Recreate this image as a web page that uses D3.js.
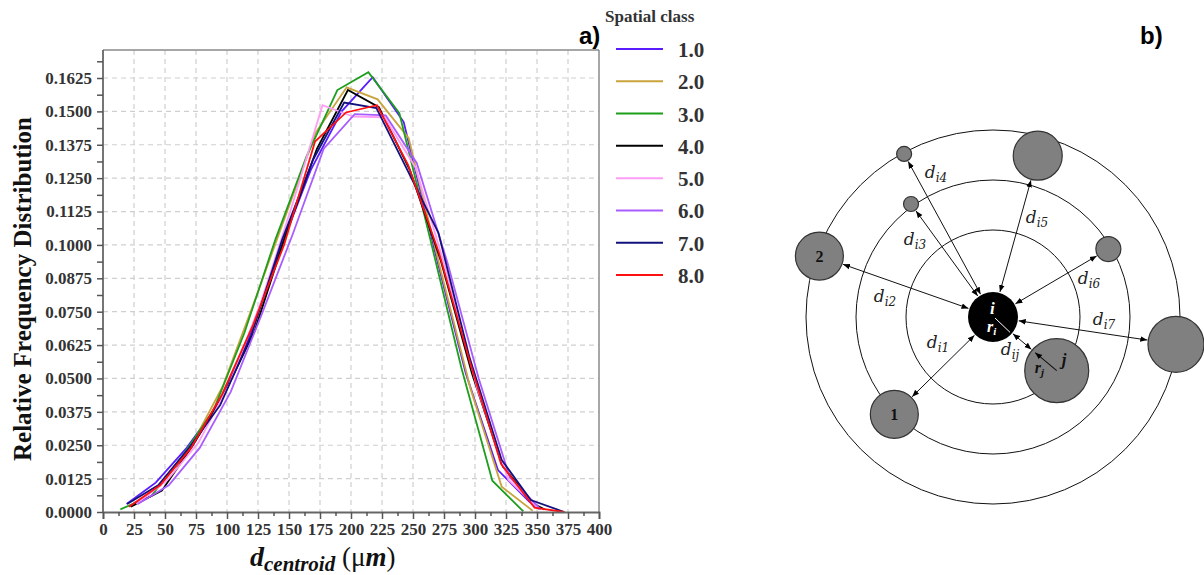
<!DOCTYPE html>
<html>
<head>
<meta charset="utf-8">
<script src="https://cdn.jsdelivr.net/npm/d3@7"></script>
<style>
  body { margin: 0; background: #fff; }
  svg { display: block; }
</style>
</head>
<body>
<svg id="chart" width="1204" height="575"></svg>
<script>
// ---------------- DATA (panel a) ----------------
const spatialClasses = ["1.0", "2.0", "3.0", "4.0", "5.0", "6.0", "7.0", "8.0"];
const classColors = ["#5a1cff", "#c9a43e", "#1d9e1d", "#000000", "#ff9cf5", "#a95cff", "#12127e", "#ff1010"];

const xClass1 = [19, 42.5, 67.5, 92.5, 117.5, 142.5, 167.5, 192.5, 217.5, 242.5, 267.5, 292.5, 318.5, 343.5, 352];
const yClass1 = [0.003, 0.011, 0.024, 0.040, 0.065, 0.098, 0.128, 0.150, 0.1628, 0.146, 0.098, 0.052, 0.0157, 0.004, 0.001];
const xClass2 = [21.5, 46.5, 71.5, 96.5, 121.5, 146.5, 171.5, 196.5, 221.5, 246.5, 271.5, 296.5, 321.5, 346.5];
const yClass2 = [0.002, 0.010, 0.025, 0.047, 0.078, 0.110, 0.142, 0.159, 0.1545, 0.140, 0.092, 0.046, 0.0095, 0.0005];
const xClass3 = [14, 39, 64, 89, 114, 139, 164, 189, 214, 239, 264, 289, 314, 339];
const yClass3 = [0.001, 0.006, 0.021, 0.038, 0.067, 0.102, 0.133, 0.158, 0.1647, 0.1493, 0.102, 0.054, 0.0117, 0.0002];
const xClass4 = [22.5, 47.5, 72.5, 97.5, 122.5, 147.5, 172.5, 197.5, 222.5, 247.5, 272.5, 297.5, 322.5, 347.5, 356];
const yClass4 = [0.002, 0.008, 0.025, 0.044, 0.068, 0.104, 0.136, 0.158, 0.1516, 0.128, 0.094, 0.052, 0.017, 0.003, 0.001];
const xClass5 = [27, 52, 77, 102, 127, 152, 177, 202, 227, 252, 277, 302, 327, 352];
const yClass5 = [0.003, 0.012, 0.026, 0.048, 0.078, 0.114, 0.1523, 0.148, 0.1478, 0.129, 0.090, 0.046, 0.012, 0.001];
const xClass6 = [28, 53, 78, 103, 128, 153, 178, 203, 228, 253, 278, 303, 328, 353];
const yClass6 = [0.003, 0.010, 0.024, 0.045, 0.074, 0.104, 0.136, 0.149, 0.1485, 0.1307, 0.093, 0.050, 0.013, 0.001];
const xClass7 = [19.5, 44.5, 69.5, 94.5, 119.5, 144.5, 169.5, 194.5, 220.5, 245.5, 270.5, 295.5, 321.5, 345, 372];
const yClass7 = [0.003, 0.010, 0.024, 0.040, 0.066, 0.102, 0.132, 0.1533, 0.1512, 0.128, 0.1045, 0.058, 0.0195, 0.0045, 0];
const xClass8 = [21, 46, 71, 96, 121, 146, 171, 196, 221, 246, 271, 296, 321, 348, 372];
const yClass8 = [0.002, 0.010, 0.024, 0.044, 0.070, 0.100, 0.1387, 0.1496, 0.1523, 0.130, 0.097, 0.056, 0.018, 0.0016, 0];

const xSeries = [xClass1, xClass2, xClass3, xClass4, xClass5, xClass6, xClass7, xClass8];
const ySeries = [yClass1, yClass2, yClass3, yClass4, yClass5, yClass6, yClass7, yClass8];

const xTicks = d3.range(0, 401, 25);
const yTicks = d3.range(0, 14).map(i => +(i * 0.0125).toFixed(4));

// ---------------- DATA (panel b diagram, polar around particle i) ----------------
const ringRadii = [87, 137, 187];
const satNames  = ["1", "2", "3", "4", "5", "6", "7", "j"];
const satAngle  = [135.4, -160.65, -125.96, -118.6, -74.5, -30.5, 8.5, 40.1];
const satDist   = [138.6, 184, 139.6, 185.7, 167.4, 133.9, 185, 83.3];
const satRadius = [24, 24, 7.5, 7.5, 24.5, 12.5, 28, 32];
const satText   = ["1", "2", "", "", "", "", "", ""];
const distLabels = ["i1", "i2", "i3", "i4", "i5", "i6", "i7", "ij"];
const labelAngle = [154.7, -169.5, -135.4, -111.6, -66, -21.6, 1.5, 62.7];
const labelDist  = [60.8, 109.8, 109.6, 154.9, 108.3, 103.2, 111, 37];
const particleIRadius = 25;

// ---------------- DRAW ----------------
const svg = d3.select("#chart");
svg.append("rect").attr("width", 1204).attr("height", 575).attr("fill", "#fff");

const m = { left: 103, right: 599, top: 50, bottom: 512 };
const x = d3.scaleLinear().domain([0, 400]).range([m.left, m.right]);
const y = d3.scaleLinear().domain([0, 0.1625]).range([m.bottom, 78]);

const serif = "'Liberation Serif', 'Times New Roman', serif";

// grid
const grid = svg.append("g");
grid.selectAll("line.v").data(xTicks.filter(d => d > 0 && d < 400)).join("line")
  .attr("x1", d => x(d)).attr("x2", d => x(d)).attr("y1", m.top).attr("y2", m.bottom)
  .attr("stroke", "#cfcfcf").attr("stroke-width", 1.2).attr("stroke-dasharray", "5,4");
grid.selectAll("line.h").data(yTicks.filter(d => d > 0)).join("line")
  .attr("x1", m.left).attr("x2", m.right).attr("y1", d => y(d)).attr("y2", d => y(d))
  .attr("stroke", "#cfcfcf").attr("stroke-width", 1.2).attr("stroke-dasharray", "5,4");

// frame top/right
svg.append("line").attr("x1", m.left).attr("x2", m.right).attr("y1", m.top).attr("y2", m.top)
  .attr("stroke", "#8a8a8a").attr("stroke-width", 1.5);
svg.append("line").attr("x1", m.right).attr("x2", m.right).attr("y1", m.top).attr("y2", m.bottom)
  .attr("stroke", "#8a8a8a").attr("stroke-width", 1.5);

// lines
const line = d3.line().x(d => x(d[0])).y(d => y(d[1]));
const lines = svg.append("g");
xSeries.forEach((xs, i) => {
  const pts = xs.map((xv, k) => [xv, ySeries[i][k]]);
  lines.append("path").datum(pts).attr("d", line)
    .attr("fill", "none").attr("stroke", classColors[i]).attr("stroke-width", 1.8)
    .attr("stroke-linejoin", "miter");
});

// axes
const yMinor = d3.range(0, 14).map(i => +(i * 0.0125 + 0.00625).toFixed(5));
const yAxisG = svg.append("g").attr("transform", `translate(${m.left},0)`)
  .call(d3.axisLeft(y).tickValues(yTicks).tickFormat(d3.format(".4f")).tickSize(6).tickPadding(5));
yAxisG.select(".domain").attr("d", `M0,${m.bottom}V${m.top}`);
svg.append("g").attr("transform", `translate(${m.left},0)`)
  .call(d3.axisLeft(y).tickValues(yMinor).tickFormat("").tickSize(6))
  .select(".domain").remove();

const xMinor = d3.range(12.5, 400, 25);
svg.append("g").attr("transform", `translate(0,${m.bottom})`)
  .call(d3.axisBottom(x).tickValues(xTicks).tickFormat(d3.format("d")).tickSize(7).tickPadding(4));
svg.append("g").attr("transform", `translate(0,${m.bottom})`)
  .call(d3.axisBottom(x).tickValues(xMinor).tickFormat("").tickSize(4))
  .select(".domain").remove();

svg.selectAll(".domain").attr("stroke", "#666").attr("stroke-width", 1.8);
svg.selectAll(".tick line").attr("stroke", "#555").attr("stroke-width", 1.5);
svg.selectAll(".tick text").attr("font-family", serif).attr("font-weight", "bold")
  .attr("font-size", 17).attr("fill", "#333");

// axis titles
svg.append("text").attr("transform", "translate(31,289) rotate(-90)")
  .attr("text-anchor", "middle").attr("font-family", serif).attr("font-weight", "bold")
  .attr("font-size", 25).attr("fill", "#111").text("Relative Frequency Distribution");

const xt = svg.append("text").attr("x", 250).attr("y", 566).attr("font-family", serif).attr("fill", "#111");
xt.append("tspan").attr("font-size", 28).attr("font-weight", "bold").attr("font-style", "italic").text("d");
xt.append("tspan").attr("font-size", 21).attr("font-weight", "bold").attr("font-style", "italic").attr("dy", 5).text("centroid");
xt.append("tspan").attr("font-size", 27).attr("dy", -5).text(" (μ");
xt.append("tspan").attr("font-size", 27).attr("font-weight", "bold").attr("font-style", "italic").text("m");
xt.append("tspan").attr("font-size", 27).text(")");

// panel label a)
svg.append("text").attr("x", 579).attr("y", 44).attr("font-family", "'Liberation Sans', Arial, sans-serif")
  .attr("font-weight", "bold").attr("font-size", 24).text("a)");

// legend
const leg = svg.append("g");
leg.append("text").attr("x", 605).attr("y", 22).attr("font-family", serif).attr("font-weight", "bold")
  .attr("font-size", 17).attr("fill", "#333").text("Spatial class");
const legY = d3.scalePoint().domain(spatialClasses).range([49, 275]);
spatialClasses.forEach((c, i) => {
  leg.append("line").attr("x1", 616).attr("x2", 663).attr("y1", legY(c)).attr("y2", legY(c))
    .attr("stroke", classColors[i]).attr("stroke-width", 2);
  leg.append("text").attr("x", 678).attr("y", legY(c) + 8).attr("font-family", serif)
    .attr("font-weight", "bold").attr("font-size", 21).attr("fill", "#333").text(c);
});

// ---------------- panel b ----------------
svg.append("text").attr("x", 1140).attr("y", 44).attr("font-family", "'Liberation Sans', Arial, sans-serif")
  .attr("font-weight", "bold").attr("font-size", 24).text("b)");

const cx = 993, cy = 317;
const rad = a => a * Math.PI / 180;
const polar = (ang, dist) => [cx + dist * Math.cos(rad(ang)), cy + dist * Math.sin(rad(ang))];

const defs = svg.append("defs");
defs.append("marker").attr("id", "ah").attr("viewBox", "0 0 10 10").attr("refX", 10).attr("refY", 5)
  .attr("markerWidth", 7).attr("markerHeight", 7).attr("orient", "auto-start-reverse")
  .attr("markerUnits", "userSpaceOnUse")
  .append("path").attr("d", "M0,1 L10,5 L0,9 z").attr("fill", "#000");

const b = svg.append("g");
b.selectAll("circle.ring").data(ringRadii).join("circle")
  .attr("cx", cx).attr("cy", cy).attr("r", d => d)
  .attr("fill", "none").attr("stroke", "#111").attr("stroke-width", 1);

// arrows i -> satellites
satNames.forEach((n, k) => {
  const a = satAngle[k];
  const p1 = polar(a, particleIRadius + 1);
  const p2 = polar(a, satDist[k] - satRadius[k] - 1);
  b.append("line").attr("x1", p1[0]).attr("y1", p1[1]).attr("x2", p2[0]).attr("y2", p2[1])
    .attr("stroke", "#111").attr("stroke-width", 1)
    .attr("marker-start", "url(#ah)").attr("marker-end", "url(#ah)");
});

// satellites
satNames.forEach((n, k) => {
  const p = polar(satAngle[k], satDist[k]);
  b.append("circle").attr("cx", p[0]).attr("cy", p[1]).attr("r", satRadius[k])
    .attr("fill", "#808080").attr("stroke", "#333").attr("stroke-width", 1.2);
  if (satText[k]) {
    b.append("text").attr("x", p[0]).attr("y", p[1] + 6).attr("text-anchor", "middle")
      .attr("font-family", serif).attr("font-weight", "bold").attr("font-size", 16).attr("fill", "#111").text(satText[k]);
  }
});

// particle i
b.append("circle").attr("cx", cx).attr("cy", cy).attr("r", particleIRadius).attr("fill", "#000");
const ri = polar(42, particleIRadius - 2);
b.append("line").attr("x1", cx + 2).attr("y1", cy + 1).attr("x2", ri[0]).attr("y2", ri[1])
  .attr("stroke", "#fff").attr("stroke-width", 1);
b.append("text").attr("x", cx - 3).attr("y", cy - 3).attr("font-family", serif).attr("font-style", "italic")
  .attr("font-weight", "bold").attr("font-size", 17).attr("fill", "#fff").text("i");
const rit = b.append("text").attr("x", cx - 6).attr("y", cy + 15).attr("font-family", serif)
  .attr("font-style", "italic").attr("font-weight", "bold").attr("font-size", 16).attr("fill", "#fff");
rit.append("tspan").text("r");
rit.append("tspan").attr("font-size", 11).attr("dy", 3).text("i");

// particle j radius arrow and labels
const jIdx = satNames.indexOf("j");
const jc = polar(satAngle[jIdx], satDist[jIdx]);
const jEdge = [jc[0] - 21.5, jc[1] - 18];
b.append("line").attr("x1", jc[0]).attr("y1", jc[1]).attr("x2", jEdge[0]).attr("y2", jEdge[1])
  .attr("stroke", "#111").attr("stroke-width", 1.1).attr("marker-end", "url(#ah)");
const rjt = b.append("text").attr("x", jc[0] - 22).attr("y", jc[1] + 2).attr("font-family", serif)
  .attr("font-style", "italic").attr("font-weight", "bold").attr("font-size", 16).attr("fill", "#111");
rjt.append("tspan").text("r");
rjt.append("tspan").attr("font-size", 11).attr("dy", 3).text("j");
b.append("text").attr("x", jc[0] + 5).attr("y", jc[1] - 6).attr("font-family", serif)
  .attr("font-style", "italic").attr("font-weight", "bold").attr("font-size", 17).attr("fill", "#111").text("j");

// distance labels
distLabels.forEach((s, k) => {
  const p = polar(labelAngle[k], labelDist[k]);
  const t = b.append("text").attr("x", p[0]).attr("y", p[1] + 5).attr("text-anchor", "middle")
    .attr("font-family", "'DejaVu Serif', serif").attr("font-style", "italic").attr("font-size", 17).attr("fill", "#222");
  t.append("tspan").text("d");
  t.append("tspan").attr("font-size", 12).attr("dy", 4).text(s);
});
</script>
</body>
</html>
